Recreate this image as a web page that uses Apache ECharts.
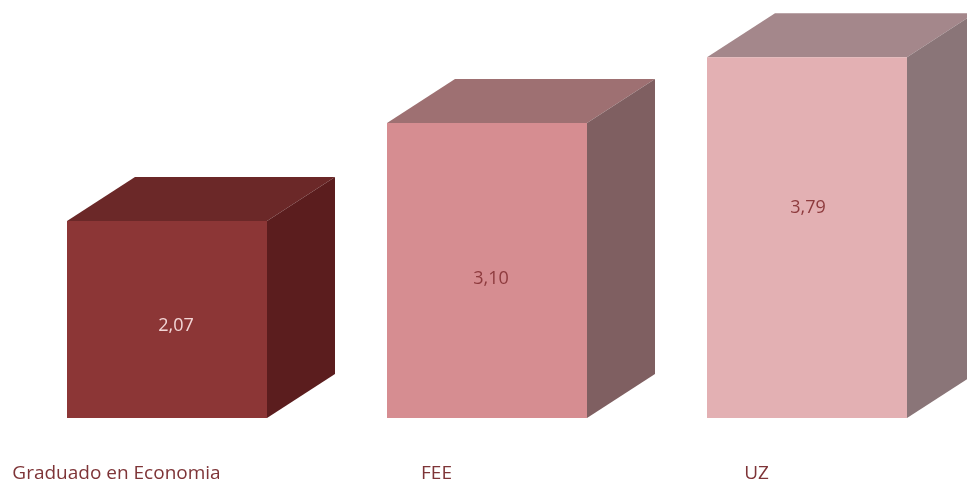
<!DOCTYPE html>
<html>
<head>
<meta charset="utf-8">
<script src="https://cdn.jsdelivr.net/npm/echarts@6/dist/echarts.min.js"></script>
<style>html,body{margin:0;padding:0;background:#fff}#c{width:967px;height:484px}</style>
</head>
<body>
<div id="c"></div>
<script>
var categories = ['Graduado en Economia', 'FEE', 'UZ'];
var values = [2.07, 3.10, 3.79];
var valueLabels = ['2,07', '3,10', '3,79'];

var frontColors = ['#8c3636', '#d68d91', '#e3b0b3'];
var topColors = ['#6b2828', '#9e7072', '#a4878b'];
var sideColors = ['#5b1d1e', '#7f5f61', '#8a7578'];
var labelColors = ['#f3d6d6', '#8e3b3e', '#8e3b3e'];
var labelShift = [[9, 6], [4, 8], [1, -30]];

var chart = echarts.init(document.getElementById('c'));
chart.setOption({
  animation: false,
  grid: { left: 7, right: 0, top: 37.2, bottom: 66, outerBoundsMode: 'none', containLabel: false },
  xAxis: {
    type: 'category',
    data: categories,
    axisLine: { show: false },
    axisTick: { show: false },
    axisLabel: {
      margin: 45,
      fontFamily: 'Open Sans',
      fontSize: 19,
      lineHeight: 22,
      color: '#7e3437',
      padding: [0, 101, 0, 0]
    }
  },
  yAxis: {
    type: 'value', min: 0, max: 4,
    show: false, splitLine: { show: false }
  },
  series: [{
    type: 'custom',
    data: values.map(function (v, i) { return [i, v]; }),
    renderItem: function (params, api) {
      var i = params.dataIndex;
      var top = api.coord([api.value(0), api.value(1)]);
      var base = api.coord([api.value(0), 0]);
      var band = api.size([1, 0])[0];
      var w = band * 0.625;
      var dx = w * 0.34, dy = -w * 0.22;
      var x0 = top[0] - w / 2, x1 = top[0] + w / 2;
      var yT = top[1], yB = base[1];
      return {
        type: 'group',
        children: [
          { type: 'polygon', shape: { points: [[x0, yT], [x0 + dx, yT + dy], [x1 + dx, yT + dy], [x1, yT]] },
            style: { fill: topColors[i] } },
          { type: 'polygon', shape: { points: [[x1, yT], [x1 + dx, yT + dy], [x1 + dx, yB + dy], [x1, yB]] },
            style: { fill: sideColors[i] } },
          { type: 'rect', shape: { x: x0, y: yT, width: w, height: yB - yT },
            style: { fill: frontColors[i] } },
          { type: 'text', x: top[0] + labelShift[i][0], y: (yT + yB) / 2 + labelShift[i][1],
            style: { text: valueLabels[i], fill: labelColors[i], font: '18px "Open Sans"', align: 'center', verticalAlign: 'middle' } }
        ]
      };
    }
  }]
});
</script>
</body>
</html>
